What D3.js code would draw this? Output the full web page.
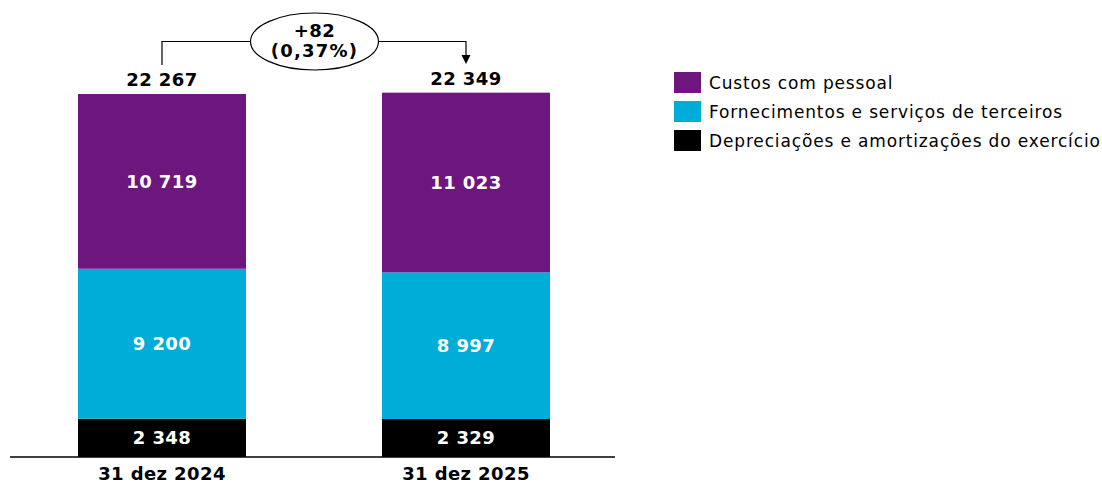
<!DOCTYPE html>
<html><head><meta charset="utf-8">
<script src="https://cdn.jsdelivr.net/npm/d3@7/dist/d3.min.js"></script>
<style>body{margin:0;background:#fff}svg{display:block}text{font-family:"DejaVu Sans",Verdana,sans-serif}</style>
</head><body><svg id="c" width="1102" height="483"></svg>
<script>
const categories = ["31 dez 2024", "31 dez 2025"];
const seriesNames = ["Depreciações e amortizações do exercício", "Fornecimentos e serviços de terceiros", "Custos com pessoal"];
const depreciacoes = [2348, 2329];
const fornecimentos = [9200, 8997];
const pessoal = [10719, 11023];
const totals = [22267, 22349];
const totalLabels = ["22 267", "22 349"];
const segLabels = [["2 348", "2 329"], ["9 200", "8 997"], ["10 719", "11 023"]];
const deltaLabels = ["+82", "(0,37%)"];
const colors = ["#000000", "#00ADD8", "#6C167E"];

const svg = d3.select("#c");
const x = d3.scaleBand().domain(categories).range([10, 618]).paddingInner(0.4474).paddingOuter(0.2237);
const y = d3.scaleLinear().domain([0, 22267]).range([457, 94]);
const boldSize = 18, boldSpacing = 0.4;

const rows = categories.map((c, i) => ({cat: c, s0: depreciacoes[i], s1: fornecimentos[i], s2: pessoal[i]}));
const stack = d3.stack().keys(["s0", "s1", "s2"])(rows);

stack.forEach((layer, li) => {
  svg.append("g").selectAll("rect").data(layer).join("rect")
    .attr("x", d => x(d.data.cat)).attr("width", x.bandwidth())
    .attr("y", d => y(d[1])).attr("height", d => y(d[0]) - y(d[1]))
    .attr("fill", colors[li]);
  svg.append("g").selectAll("text").data(layer).join("text")
    .attr("x", d => x(d.data.cat) + x.bandwidth() / 2)
    .attr("y", d => (y(d[0]) + y(d[1])) / 2)
    .attr("dy", "0.36em").attr("text-anchor", "middle")
    .attr("fill", "#fff").attr("font-weight", "bold").attr("font-size", boldSize)
    .attr("letter-spacing", boldSpacing)
    .text((d, i) => segLabels[li][i]);
});

// axis baseline
const xAxis = d3.axisBottom(x).tickSize(0).tickPadding(10);
const ag = svg.append("g").attr("transform", "translate(0,457)").call(xAxis);
ag.select(".domain").attr("stroke", "#000").attr("stroke-width", 1.3).attr("d", "M10,0H615");
ag.selectAll("text").attr("font-size", boldSize).attr("font-weight", "bold").attr("fill", "#000")
  .attr("letter-spacing", boldSpacing)
  .attr("font-family", "DejaVu Sans, Verdana, sans-serif");

// totals
svg.append("g").selectAll("text").data(totals).join("text")
  .attr("x", (d, i) => x(categories[i]) + x.bandwidth() / 2)
  .attr("y", d => y(d) - 8)
  .attr("text-anchor", "middle").attr("font-weight", "bold").attr("font-size", boldSize)
  .attr("letter-spacing", boldSpacing)
  .text((d, i) => totalLabels[i]);

// delta annotation
const cx0 = x(categories[0]) + x.bandwidth() / 2, cx1 = x(categories[1]) + x.bandwidth() / 2;
const ex = 314.5, ey = 41.5, rx = 64, ry = 28.5;
const ly = 41.5;
svg.append("path").attr("d", `M${cx0},65V${ly}H${ex - rx}`).attr("fill", "none").attr("stroke", "#000").attr("stroke-width", 1.2);
svg.append("path").attr("d", `M${ex + rx},${ly}H${cx1}V56`).attr("fill", "none").attr("stroke", "#000").attr("stroke-width", 1.2);
svg.append("path").attr("d", `M${cx1 - 4.5},55L${cx1 + 4.5},55L${cx1},64Z`).attr("fill", "#000");
svg.append("ellipse").attr("cx", ex).attr("cy", ey).attr("rx", rx).attr("ry", ry)
  .attr("fill", "#fff").attr("stroke", "#000").attr("stroke-width", 1.2);
svg.append("text").attr("x", ex).attr("y", 37).attr("text-anchor", "middle")
  .attr("font-weight", "bold").attr("font-size", boldSize).attr("letter-spacing", boldSpacing).text(deltaLabels[0]);
svg.append("text").attr("x", ex).attr("y", 57).attr("text-anchor", "middle")
  .attr("font-weight", "bold").attr("font-size", boldSize).attr("letter-spacing", 1.2).text(deltaLabels[1]);

// legend (top to bottom: pessoal, fornecimentos, depreciacoes)
const legendOrder = [2, 1, 0];
const lg = svg.append("g").attr("transform", "translate(674,72)");
legendOrder.forEach((si, k) => {
  const g = lg.append("g").attr("transform", `translate(0,${k * 29})`);
  g.append("rect").attr("width", 27).attr("height", 21).attr("fill", colors[si]);
  g.append("text").attr("x", 35).attr("y", 10.5).attr("dy", "0.36em").attr("font-size", 17)
    .attr("letter-spacing", 0.85).text(seriesNames[si]);
});
</script></body></html>
